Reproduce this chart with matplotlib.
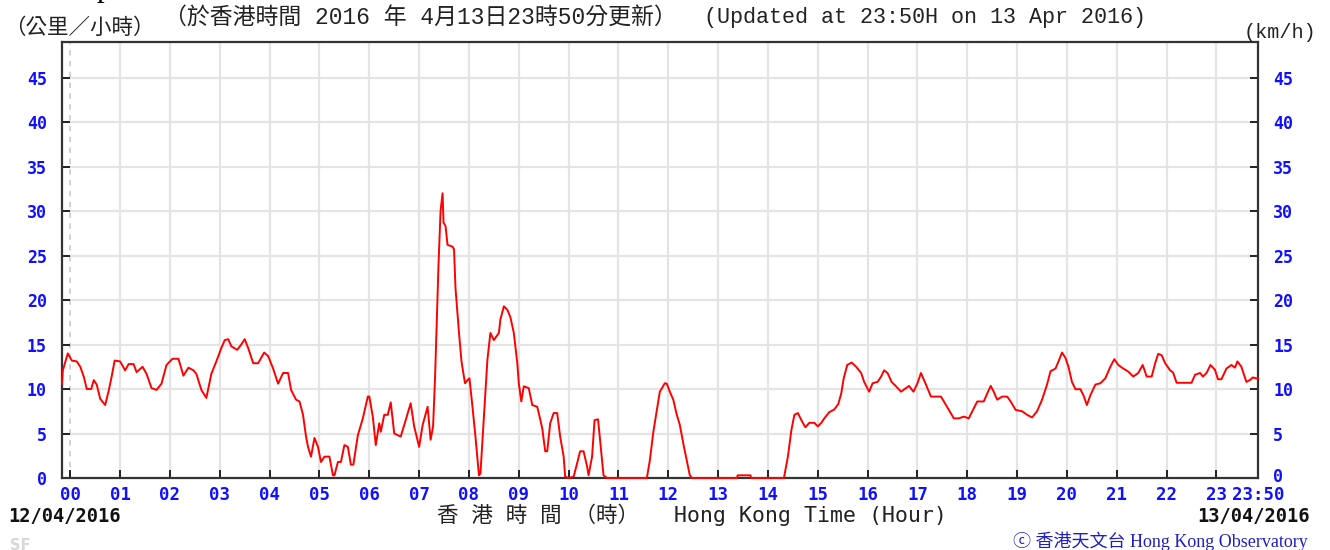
import matplotlib
matplotlib.use("Agg")
import matplotlib.pyplot as plt
import matplotlib.transforms as mtransforms

# ---- data (hours relative to 00:00 on 13/04/2016, wind speed km/h) ----
hours = [
    -0.167, -0.15, -0.05, 0.03, 0.13, 0.2, 0.27, 0.33, 0.42, 0.47, 0.53, 0.6, 0.7, 0.77, 0.83, 0.89,
    1.0, 1.1, 1.17, 1.27, 1.33, 1.45, 1.53, 1.63, 1.73, 1.83, 1.93,
    2.05, 2.17, 2.27, 2.37, 2.47, 2.53, 2.63, 2.73, 2.83, 2.93,
    3.03, 3.1, 3.17, 3.23, 3.35, 3.43, 3.5, 3.57, 3.67, 3.77, 3.89, 3.97,
    4.07, 4.17, 4.27, 4.37, 4.43, 4.53, 4.6, 4.67, 4.73, 4.77, 4.83, 4.9, 4.97,
    5.03, 5.1, 5.2, 5.27, 5.3, 5.37, 5.43, 5.5, 5.57, 5.63, 5.68, 5.77, 5.87, 5.97,
    6.0, 6.07, 6.13, 6.2, 6.23, 6.3, 6.37, 6.43, 6.5, 6.63, 6.73, 6.83, 6.9,
    7.0, 7.07, 7.17, 7.23, 7.28, 7.32, 7.35, 7.39, 7.43, 7.47, 7.49, 7.53, 7.57, 7.67, 7.7, 7.73, 7.8, 7.85, 7.92, 7.97,
    8.01, 8.07, 8.13, 8.2, 8.23, 8.3, 8.37, 8.43, 8.5, 8.6, 8.63, 8.7, 8.77, 8.83, 8.9, 8.97,
    9.0, 9.05, 9.1, 9.2, 9.27, 9.37, 9.4, 9.47, 9.53, 9.57, 9.63, 9.7, 9.77, 9.83, 9.9, 9.93,
    10.0, 10.1, 10.17, 10.23, 10.3, 10.37, 10.4, 10.47, 10.52, 10.59, 10.63, 10.7, 10.77,
    11.57, 11.63, 11.7, 11.77, 11.83, 11.93, 11.97,
    12.03, 12.1, 12.17, 12.23, 12.3, 12.37, 12.43, 12.47,
    13.38, 13.39, 13.65, 13.66,
    14.32, 14.4, 14.47, 14.53, 14.6, 14.67, 14.75, 14.83, 14.93,
    15.0, 15.07, 15.13, 15.23, 15.33, 15.41, 15.47, 15.52, 15.59, 15.68, 15.77, 15.87, 15.93,
    16.03, 16.1, 16.2, 16.27, 16.33, 16.4, 16.48, 16.57, 16.67, 16.77, 16.83, 16.92,
    17.0, 17.07, 17.17, 17.27, 17.47, 17.53, 17.63, 17.73, 17.83, 17.93,
    18.03, 18.1, 18.2, 18.33, 18.4, 18.47, 18.53, 18.6, 18.7, 18.8, 18.87, 18.97,
    19.1, 19.2, 19.3, 19.4, 19.5, 19.6, 19.67, 19.77, 19.83, 19.9, 19.97,
    20.03, 20.1, 20.17, 20.27, 20.33, 20.4, 20.47, 20.57, 20.67, 20.77, 20.87, 20.95,
    21.03, 21.13, 21.23, 21.33, 21.43, 21.52, 21.6, 21.7, 21.77, 21.83, 21.9, 21.97,
    22.07, 22.13, 22.2, 22.5, 22.57, 22.67, 22.73, 22.8, 22.88, 22.97,
    23.03, 23.1, 23.2, 23.3, 23.37, 23.42, 23.5, 23.6, 23.67, 23.73, 23.8, 23.833,
]
speed = [
    10.6, 12.1, 14.0, 13.2, 13.1, 12.5, 11.4, 10.0, 10.0, 11.0, 10.5, 8.9, 8.2, 9.8, 11.4, 13.2,
    13.1, 12.1, 12.8, 12.8, 11.9, 12.5, 11.7, 10.1, 9.9, 10.6, 12.7,
    13.4, 13.4, 11.5, 12.4, 12.1, 11.7, 9.9, 9.0, 11.7, 13.1,
    14.6, 15.5, 15.6, 14.8, 14.4, 15.0, 15.6, 14.6, 12.9, 12.9, 14.1, 13.7,
    12.3, 10.6, 11.8, 11.8, 9.9, 8.8, 8.6, 7.1, 4.65, 3.5, 2.4, 4.5, 3.5,
    1.8, 2.4, 2.4, 0.3, 0.3, 1.8, 1.8, 3.7, 3.5, 1.5, 1.5, 4.8, 6.7, 9.15,
    9.15, 6.9, 3.7, 6.15, 5.2, 7.1, 7.1, 8.5, 5.0, 4.65, 6.5, 8.4, 5.8,
    3.5, 5.95, 8.0, 4.3, 5.8, 11.4, 17.0, 24.2, 30.0, 32.0, 28.7, 28.3, 26.2, 26.0, 25.7, 21.3, 16.3, 13.1, 10.65, 11.0,
    11.2, 8.0, 4.65, 0.3, 0.5, 6.9, 13.3, 16.3, 15.5, 16.3, 17.8, 19.3, 18.9, 18.1, 16.3, 12.9,
    10.65, 8.6, 10.3, 10.1, 8.2, 8.0, 7.3, 5.6, 3.0, 3.0, 6.15, 7.3, 7.3, 4.65, 2.4, 0.15,
    0.0, 0.15, 1.65, 3.0, 3.0, 1.3, 0.3, 2.4, 6.5, 6.6, 4.3, 0.3, 0.0,
    0.0, 2.0, 5.2, 7.65, 9.7, 10.65, 10.6,
    9.7, 8.8, 7.1, 6.0, 3.9, 2.0, 0.34, 0.0,
    0.0, 0.3, 0.3, 0.0,
    0.0, 2.4, 5.4, 7.1, 7.3, 6.5, 5.7, 6.2, 6.2,
    5.8, 6.2, 6.7, 7.4, 7.7, 8.3, 9.5, 11.2, 12.7, 12.97, 12.5, 11.8, 10.8,
    9.7, 10.65, 10.8, 11.4, 12.1, 11.8, 10.8, 10.3, 9.7, 10.1, 10.35, 9.7,
    10.65, 11.8, 10.5, 9.15, 9.15, 8.6, 7.65, 6.7, 6.7, 6.9,
    6.7, 7.5, 8.6, 8.6, 9.5, 10.35, 9.7, 8.8, 9.15, 9.15, 8.6, 7.65,
    7.5, 7.1, 6.8, 7.5, 8.8, 10.5, 12.0, 12.3, 13.1, 14.1, 13.5,
    12.5, 10.8, 9.98, 9.98, 9.3, 8.2, 9.3, 10.5, 10.65, 11.2, 12.5, 13.35,
    12.7, 12.3, 11.96, 11.4, 11.8, 12.7, 11.4, 11.4, 12.9, 13.95, 13.8, 12.9,
    12.1, 11.85, 10.7, 10.7, 11.6, 11.8, 11.4, 11.8, 12.7, 12.15,
    11.1, 11.1, 12.3, 12.7, 12.4, 13.1, 12.5, 10.8, 11.0, 11.3, 11.2, 11.2,
]
hour_ticks = list(range(24)) + [23 + 50 / 60]
hour_labels = ["%02d" % h for h in range(24)] + ["23:50"]
y_ticks = list(range(0, 50, 5))

W, H = 1330, 550
fig = plt.figure(figsize=(W / 100, H / 100), dpi=100)
ax = fig.add_axes([62 / W, 1 - 478 / H, (1258 - 62) / W, (478 - 42) / H])

ax.set_xlim(-10 / 60, 23 + 50 / 60)
ax.set_ylim(0, 49)

grid_c = "#e4e4e4"
for h in range(1, 24):
    ax.axvline(h, color=grid_c, lw=1.6, zorder=1)
for y in y_ticks[1:]:
    ax.axhline(y, color=grid_c, lw=1.6, zorder=1)
ax.axvline(0, color="#cfcfcf", lw=1.3, ls=(0, (3, 3)), zorder=1)

ax.plot(hours, speed, color="#ff0000", lw=1.4, zorder=4, clip_on=False)

ax.set_xticks(hour_ticks)
ax.set_xticklabels(hour_labels)
ax.set_yticks(y_ticks)
ax.set_yticklabels([str(v) for v in y_ticks])
ax.tick_params(axis="both", direction="in", length=5.5, width=1.2, color="black",
               labelcolor="#1010ff", right=True, labelright=True)
ax.tick_params(axis="x", pad=6)
ax.tick_params(axis="y", pad=11)
for t in ax.xaxis.get_major_ticks():
    t.label1.set_fontfamily("DejaVu Sans Mono")
    t.label1.set_fontweight("bold")
    t.label1.set_fontsize(12.5)
for t in ax.yaxis.get_major_ticks():
    for lab in (t.label1, t.label2):
        lab.set_fontfamily("DejaVu Sans Mono")
        lab.set_fontweight("bold")
        lab.set_fontsize(12)

# nudge the right-hand "0" label up a little so it clears "23:50"
zero_r = ax.yaxis.get_major_ticks()[0].label2
zero_r.set_transform(zero_r.get_transform() +
                     mtransforms.ScaledTranslation(0, 3 / 100, fig.dpi_scale_trans))

for s in ax.spines.values():
    s.set_color("#333333")
    s.set_linewidth(1.6)


def ftext(x, y, s, **kw):
    fig.text(x / W, 1 - y / H, s, **kw)


cjk_mono = ["Liberation Mono", "Noto Sans CJK TC", "DejaVu Sans"]
ftext(4, 28, "（公里／小時）", family=cjk_mono, fontsize=15.5, va="center", ha="left", color="#222222")
ftext(164, 18, "（於香港時間 2016 年 4月13日23時50分更新）",
      family=cjk_mono, fontsize=16.5, va="center", ha="left", color="#222222")
ftext(704, 18, "(Updated at 23:50H on 13 Apr 2016)",
      family=cjk_mono, fontsize=15.7, va="center", ha="left", color="#222222")
ftext(1316, 32, "(km/h)", family=cjk_mono, fontsize=14.5, va="center", ha="right", color="#222222")
ftext(97, -4, "p", family="Liberation Serif", fontsize=22, va="baseline", ha="left", color="black")

ftext(8, 516, "12/04/2016", family="DejaVu Sans Mono", fontweight="bold", fontsize=13.5,
      va="center", ha="left", color="#111111")
ftext(1310, 516, "13/04/2016", family="DejaVu Sans Mono", fontweight="bold", fontsize=13.5,
      va="center", ha="right", color="#111111")
ftext(437, 516, "香 港 時 間 （時）", family=cjk_mono, fontsize=15.5,
      va="center", ha="left", color="#222222")
ftext(674, 516, "Hong Kong Time (Hour)", family="DejaVu Sans Mono", fontsize=15.5,
      va="center", ha="left", color="#222222")
ftext(10, 545, "SF", family="DejaVu Sans", fontweight="bold", fontsize=10.5,
      va="center", ha="left", color="#d8d8d8")
ftext(1308, 541, "ⓒ 香港天文台 Hong Kong Observatory",
      family=["Liberation Serif", "Noto Sans CJK TC", "DejaVu Sans"], fontsize=13,
      va="center", ha="right", color="#2020c0")

fig.savefig("out.png", dpi=100)
